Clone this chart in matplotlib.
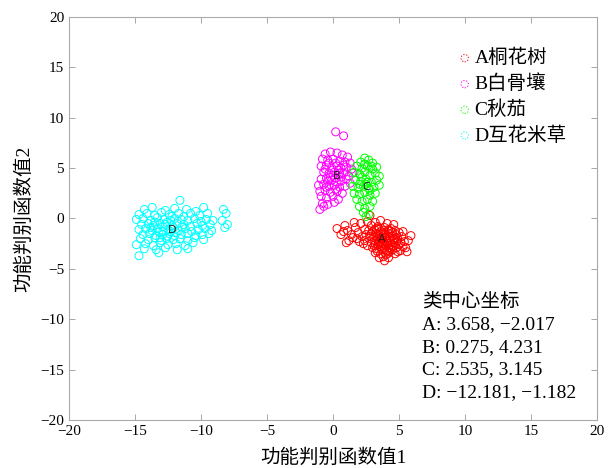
import matplotlib
matplotlib.use('Agg')
import matplotlib.pyplot as plt

plt.rcParams['font.family'] = ['Liberation Serif', 'Noto Sans CJK SC']
plt.rcParams['axes.unicode_minus'] = True

# Scatter points (discriminant scores)
A_pts = [(0.3, -1.0), (0.6, -1.6), (0.9, -0.7), (1.1, -1.2), (1.5, -1.9), (1.7, -0.9), (1.9, -1.4),
         (2.1, -0.5), (2.2, -1.8), (2.4, -1.1), (1.2, -2.2), (0.8, -1.3), (1.6, -0.4), (2.0, -2.3),
         (2.6, -0.3), (2.5, -1.6), (1.4, -1.6), (1.8, -2.0), (1.0, -2.4), (2.3, -2.5),
         (2.8, 0.3), (3.2, -0.4), (3.6, -0.2), (4.1, -0.5), (2.9, -0.7), (3.4, -0.8), (3.9, -0.9),
         (4.4, -1.0), (2.7, -1.2), (4.6, -0.6),
         (3.0, -1.3), (3.3, -1.5), (3.6, -1.3), (3.9, -1.4), (4.2, -1.5), (4.5, -1.4), (4.8, -1.6),
         (2.8, -1.8), (3.1, -1.9), (3.4, -2.0), (3.7, -1.8), (4.0, -2.0), (4.3, -1.9), (4.6, -2.1),
         (4.9, -2.0), (5.2, -1.8), (2.9, -2.4), (3.2, -2.5), (3.5, -2.3), (3.8, -2.5), (4.1, -2.3),
         (4.4, -2.6), (4.7, -2.4), (5.0, -2.6), (5.4, -2.3), (3.0, -2.9), (3.3, -3.0), (3.6, -2.8),
         (3.9, -3.1), (4.2, -2.9), (4.5, -3.1), (4.8, -2.9), (5.1, -3.2), (3.2, -3.4), (3.6, -3.5),
         (4.0, -3.6), (4.3, -3.3), (4.7, -3.5), (3.5, -3.9), (3.9, -4.2), (4.2, -3.9), (3.3, -1.0),
         (3.7, -2.1), (4.1, -1.7), (3.5, -1.7), (3.8, -2.2), (4.0, -2.7), (3.4, -2.6), (4.3, -2.2),
         (5.5, -2.9), (5.7, -2.2), (5.3, -1.3), (2.6, -2.7), (2.4, -2.2), (5.6, -3.3), (5.9, -1.7),
         (3.55, -1.95), (3.75, -2.35), (3.95, -1.85), (4.15, -2.45), (3.85, -1.55), (3.65, -2.65),
         (4.05, -3.25), (3.45, -2.15), (4.25, -1.25), (4.55, -2.75),
         (3.15, -1.1), (3.5, -1.05), (3.85, -1.15), (4.2, -1.1), (4.7, -1.2), (5.0, -1.4),
         (3.15, -2.2), (3.45, -2.45), (3.7, -3.05), (4.35, -2.95), (4.6, -2.45), (4.85, -2.25),
         (5.15, -2.4), (5.3, -2.8), (3.1, -2.7), (3.35, -3.25), (4.5, -1.75), (4.75, -1.9),
         (3.95, -2.55), (4.2, -3.45), (3.8, -3.8), (2.9, -1.55), (3.25, -1.75), (4.9, -3.3)]

B_pts = [(0.2, 8.6), (0.8, 8.2),
         (-0.6, 6.4), (-0.2, 6.6), (0.3, 6.5), (0.7, 6.3), (1.1, 6.1),
         (-0.8, 5.9), (-0.4, 5.8), (0.0, 5.9), (0.5, 5.7), (0.9, 5.6), (1.3, 5.5),
         (-0.9, 5.2), (-0.5, 5.3), (-0.1, 5.0), (0.3, 5.2), (0.6, 5.0), (1.0, 5.1), (1.4, 4.9),
         (-0.7, 4.6), (-0.3, 4.5), (0.1, 4.6), (0.4, 4.3), (0.8, 4.5), (1.2, 4.2), (1.5, 4.5),
         (-0.9, 3.9), (-0.5, 4.0), (-0.1, 3.8), (0.2, 4.0), (0.6, 3.7), (1.0, 3.9), (1.3, 3.5),
         (-1.1, 3.3), (-0.7, 3.4), (-0.3, 3.2), (0.1, 3.3), (0.5, 3.1), (0.9, 3.2),
         (-1.0, 2.7), (-0.6, 2.8), (-0.2, 2.6), (0.3, 2.7), (0.7, 2.5),
         (-0.9, 2.2), (-0.5, 2.0), (0.0, 2.2), (0.4, 1.9),
         (-0.8, 1.5), (-0.4, 1.4), (-1.0, 0.9), (-0.7, 1.2), (0.1, 1.6),
         (0.0, 4.3), (0.4, 4.8), (-0.2, 4.1), (0.3, 3.6), (0.6, 4.1), (-0.4, 3.7),
         (-0.3, 5.5), (0.2, 5.5), (0.8, 5.3), (-0.6, 4.9), (0.5, 4.5), (-0.5, 3.1), (0.2, 2.9)]

C_pts = [(2.4, 6.0), (2.7, 5.8), (2.1, 5.6), (3.0, 5.5),
         (1.8, 5.2), (2.2, 5.0), (2.6, 5.2), (3.0, 4.9), (3.3, 5.1),
         (1.6, 4.6), (2.0, 4.4), (2.4, 4.6), (2.8, 4.3), (3.2, 4.5), (3.5, 4.2),
         (1.7, 3.8), (2.1, 3.7), (2.5, 3.9), (2.9, 3.6), (3.3, 3.8),
         (1.5, 3.2), (1.9, 3.0), (2.3, 3.2), (2.7, 3.0), (3.1, 3.1), (3.5, 3.3),
         (1.6, 2.5), (2.0, 2.4), (2.4, 2.6), (2.8, 2.3), (3.2, 2.5),
         (1.8, 1.9), (2.2, 1.7), (2.6, 1.9), (3.0, 1.7),
         (2.0, 1.2), (2.4, 1.0), (2.8, 1.2),
         (2.3, 0.6), (2.7, 0.4), (2.5, 0.2),
         (2.5, 3.4), (2.2, 4.1), (2.8, 2.8), (2.6, 3.6), (2.4, 5.4), (2.9, 5.2), (2.0, 3.4)]

D_pts = [(-11.6, 1.8),
         (-14.3, 0.9), (-13.7, 1.1), (-12.7, 0.8), (-12.0, 1.0), (-11.1, 0.9), (-10.4, 0.7), (-9.8, 1.1),
         (-14.7, 0.4), (-14.1, 0.5), (-13.5, 0.3), (-13.0, 0.6), (-12.4, 0.4), (-11.7, 0.5), (-11.3, 0.2),
         (-10.8, 0.5), (-10.1, 0.3), (-9.5, 0.5),
         (-14.9, -0.1), (-14.4, 0.0), (-13.8, -0.2), (-13.3, 0.1), (-12.8, -0.1), (-12.3, -0.2), (-12.0, 0.0),
         (-11.5, -0.1), (-11.0, -0.2), (-10.5, 0.0), (-10.0, -0.3), (-9.6, -0.1), (-9.1, -0.2),
         (-14.5, -0.6), (-14.0, -0.5), (-13.6, -0.7), (-13.1, -0.5), (-12.7, -0.6), (-12.2, -0.7),
         (-11.8, -0.5), (-11.3, -0.6), (-10.8, -0.8), (-10.3, -0.5), (-9.9, -0.7), (-9.3, -0.6),
         (-14.7, -1.1), (-14.2, -1.0), (-13.7, -1.2), (-13.3, -1.0), (-12.9, -1.3), (-12.5, -1.1),
         (-12.1, -0.9), (-11.7, -1.2), (-11.2, -1.0), (-10.7, -1.3), (-10.2, -1.1), (-9.7, -1.0), (-9.2, -1.2),
         (-14.4, -1.6), (-13.9, -1.5), (-13.4, -1.7), (-12.9, -1.6), (-12.4, -1.5), (-12.0, -1.7),
         (-11.5, -1.6), (-11.0, -1.5), (-10.4, -1.7), (-9.9, -1.6), (-9.4, -1.5),
         (-14.6, -2.0), (-14.0, -2.1), (-13.5, -1.9), (-13.0, -2.2), (-12.6, -2.0), (-12.1, -2.1),
         (-11.6, -2.0), (-11.0, -2.2), (-10.5, -1.9), (-9.8, -2.1),
         (-14.9, -2.6), (-14.2, -2.5), (-13.6, -2.7), (-13.1, -2.4), (-12.5, -2.6), (-11.9, -2.5),
         (-11.2, -2.7), (-10.6, -2.4),
         (-14.3, -3.0), (-13.4, -3.1), (-12.7, -2.9), (-11.8, -3.1), (-11.0, -3.0),
         (-14.7, -3.7), (-13.2, -3.4),
         (-8.3, 0.9), (-8.1, 0.5), (-8.4, -0.2), (-8.0, -0.6), (-8.2, -0.9),
         (-12.9, -0.8), (-12.3, -1.3), (-13.1, -1.9), (-12.6, -0.4), (-11.9, -1.4),
         (-13.5, -0.35), (-13.2, -1.35), (-12.55, -1.75), (-11.45, -0.85), (-13.8, -0.9), (-12.2, 0.2)]

group_names = ['A桐花树', 'B白骨壤', 'C秋茄', 'D互花米草']
group_letters = ['A', 'B', 'C', 'D']
group_colors = ['#ff0000', '#ff00ff', '#00ff00', '#00ffff']
centers_x = [3.658, 0.275, 2.535, -12.181]
centers_y = [-2.017, 4.231, 3.145, -1.182]

fig = plt.figure(figsize=(6.13, 4.68), dpi=100)
ax = fig.add_axes([0.1126, 0.1026, 0.8614, 0.8611])

handles = []
for pts, color, name in zip([A_pts, B_pts, C_pts, D_pts], group_colors, group_names):
    xs = [p[0] for p in pts]
    ys = [p[1] for p in pts]
    ax.scatter(xs, ys, s=33, facecolors='none', edgecolors=color, linewidths=0.7)
    h = ax.scatter([], [], s=28, facecolors='none', edgecolors=color,
                   linewidths=0.8, linestyles=':', label=name)
    handles.append(h)

for cx, cy, letter in zip(centers_x, centers_y, group_letters):
    ax.text(cx, cy, letter, ha='center', va='center', fontsize=8,
            family='DejaVu Sans', color='#222222')

ax.set_xlim(-20, 20)
ax.set_ylim(-20, 20)
ax.set_xticks(range(-20, 21, 5))
ax.set_yticks(range(-20, 21, 5))
ax.tick_params(direction='in', top=True, right=True, length=4, width=0.6,
               color='#999999', labelsize=11, labelcolor='black')
for sp in ax.spines.values():
    sp.set_color('#aaaaaa')
    sp.set_linewidth(0.8)

ax.set_xlabel('功能判别函数值1', fontsize=14, labelpad=8)
ax.set_ylabel('功能判别函数值2', fontsize=14, labelpad=5)

ax.legend(handles=handles, loc='upper left', bbox_to_anchor=(0.7236, 0.94),
          frameon=False, fontsize=14, handlelength=0.6, handletextpad=0.2,
          labelspacing=0.37, borderaxespad=0)

# centre coordinates block, one line at a time
lines = ['类中心坐标'] + [f'{l}: {x:.3f}, {y:.3f}'.replace('-', '\u2212')
                        for l, x, y in zip(group_letters, centers_x, centers_y)]
line_py = [302, 325, 348, 370, 393]
for txt, py in zip(lines, line_py):
    ax.text(0.6686, (420 - py) / 403, txt, transform=ax.transAxes,
            ha='left', va='center', fontsize=14)

fig.savefig('out.png', dpi=100)
